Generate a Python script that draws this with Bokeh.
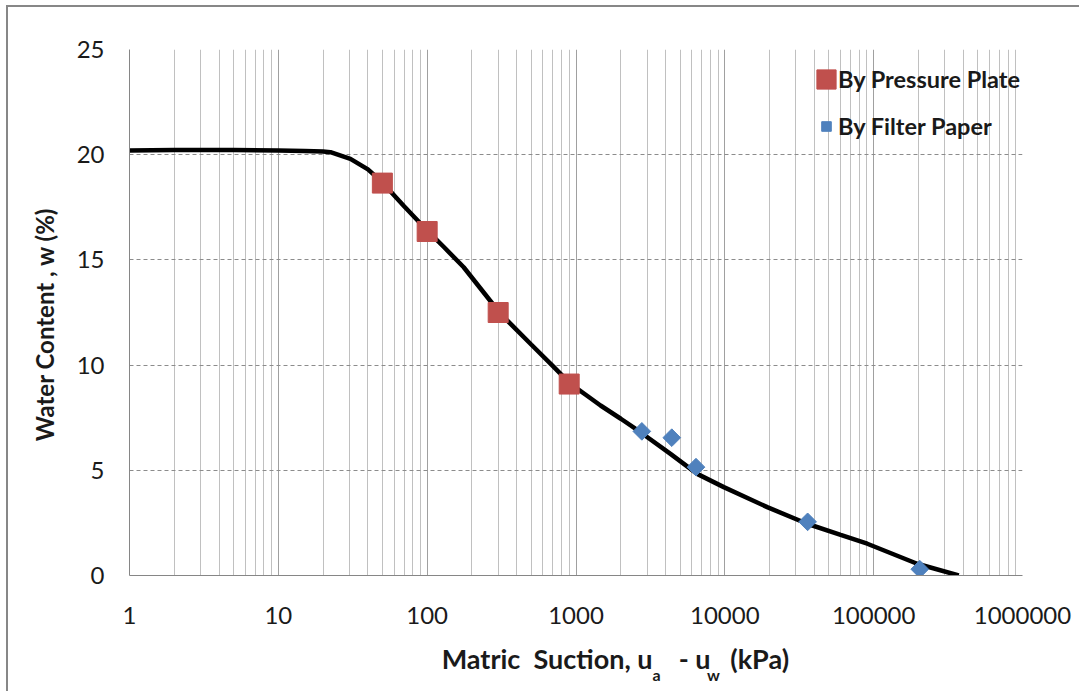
import math
from bokeh.plotting import figure
from bokeh.models import (FixedTicker, NumeralTickFormatter, Legend,
                          LegendItem, Range1d, Title)
from bokeh.embed import file_html
from bokeh.resources import INLINE

# ---------------- data ----------------
pp_suction = [50, 100, 300, 900]
pp_water = [18.65, 16.35, 12.5, 9.1]

fp_suction = [2770, 4400, 6400, 36000, 204000]
fp_water = [6.85, 6.55, 5.15, 2.55, 0.3]

curve_suction = [1, 2, 5, 10, 15, 20, 22.4, 30.5, 40, 48.6, 70, 100, 130, 176,
                 311, 500, 700, 919, 1200, 1462, 2000, 2712, 4312, 6520, 9840,
                 19270, 35750, 60000, 90600, 196000, 373000]
curve_water = [20.2, 20.22, 20.22, 20.2, 20.18, 20.15, 20.12, 19.8, 19.3, 18.77,
               17.55, 16.4, 15.6, 14.65, 12.44, 10.98, 9.95, 9.11, 8.52, 8.08,
               7.45, 6.81, 5.78, 4.83, 4.2, 3.25, 2.46, 1.93, 1.51, 0.56, 0.0]

x_ticks = [1, 10, 100, 1000, 10000, 100000, 1000000]
y_ticks = [0, 5, 10, 15, 20, 25]

legend_labels = ["By Pressure Plate", "By Filter Paper"]
y_title = "Water Content , w (%)"
x_title_main = ["Matric", "Suction,", "u", "-", "u", "(kPa)"]
x_title_subs = ["a", "w"]

NB = "\u00a0"

# ---------------- figure ----------------
W, H = 1073, 686
p = figure(width=W, height=H, x_axis_type="log",
           x_range=Range1d(x_ticks[0], x_ticks[-1]),
           y_range=Range1d(y_ticks[0], y_ticks[-1]),
           output_backend="svg", toolbar_location=None,
           min_border_left=121, min_border_right=59,
           min_border_top=42, min_border_bottom=118)
p.styles = {"border-left": "2px solid #878787", "border-top": "2px solid #878787",
            "margin-left": "6px", "margin-top": "5px"}
p.outline_line_color = None
p.background_fill_color = "white"
p.border_fill_color = "white"

minor = [m * t for t in x_ticks[:-1] for m in range(2, 10)]
p.xaxis.ticker = FixedTicker(ticks=x_ticks, minor_ticks=minor)
p.yaxis.ticker = FixedTicker(ticks=y_ticks)
p.xaxis.formatter = NumeralTickFormatter(format="0")

for ax in (p.xaxis[0], p.yaxis[0]):
    ax.axis_line_color = "#868686"
    ax.axis_line_width = 1
    ax.major_tick_out = 0
    ax.major_tick_in = 0
    ax.minor_tick_out = 0
    ax.minor_tick_in = 0
    ax.major_label_text_font = "Lato"
    ax.major_label_text_font_size = "24px"
    ax.major_label_text_color = "#1a1a1a"
    ax.axis_label_text_font = "Lato"
    ax.axis_label_text_font_style = "bold"
    ax.axis_label_text_color = "#1a1a1a"
p.xaxis.major_label_standoff = 31
p.yaxis.major_label_standoff = 25

# y title (trailing no-break spaces shift the visible text slightly downwards)
p.yaxis.axis_label = y_title + NB * 4
p.yaxis.axis_label_text_font_size = "24px"
p.yaxis.axis_label_standoff = 15

# x title: main text on the axis, subscripts as a title just below
main = (NB * 12 + x_title_main[0] + NB * 2 + x_title_main[1] + NB + x_title_main[2]
        + NB * 4 + x_title_main[3] + NB + x_title_main[4] + NB * 3 + x_title_main[5])
p.xaxis.axis_label = main
p.xaxis.axis_label_text_font_size = "27px"
p.xaxis.axis_label_standoff = 15

subs = Title(text=x_title_subs[0] + NB * 12 + x_title_subs[1], align="left",
             offset=523, vertical_align="top", standoff=-26,
             text_font="Lato", text_font_style="bold", text_font_size="16px",
             text_color="#1a1a1a")
p.add_layout(subs, "below")

p.xgrid.grid_line_color = "#A0A0A0"
p.xgrid.minor_grid_line_color = "#C0C0C0"
p.xgrid.grid_line_width = 1
p.ygrid.grid_line_color = "#8C8C8C"
p.ygrid.grid_line_dash = "4 3"

# curve
p.line(curve_suction, curve_water, line_width=4.5, color="black")

# points
r1 = p.rect(pp_suction, pp_water, width=20, height=20,
            width_units="screen", height_units="screen",
            fill_color="#C0504D", line_color="#C0504D")
r2 = p.scatter(fp_suction, fp_water, marker="square", size=12.5,
               angle=math.pi / 4, fill_color="#4F81BD", line_color="#4F81BD")

legend = Legend(items=[LegendItem(label=legend_labels[0], renderers=[r1]),
                       LegendItem(label=legend_labels[1], renderers=[r2])],
                location=(685, 435), orientation="vertical",
                glyph_width=24, glyph_height=24, label_height=24,
                label_standoff=0, spacing=19, padding=0, margin=0,
                border_line_alpha=0, background_fill_alpha=0,
                label_text_font="Lato", label_text_font_style="bold",
                label_text_font_size="23.5px", label_text_color="#1a1a1a")
p.add_layout(legend)

open("out.html", "w").write(file_html(p, INLINE))
